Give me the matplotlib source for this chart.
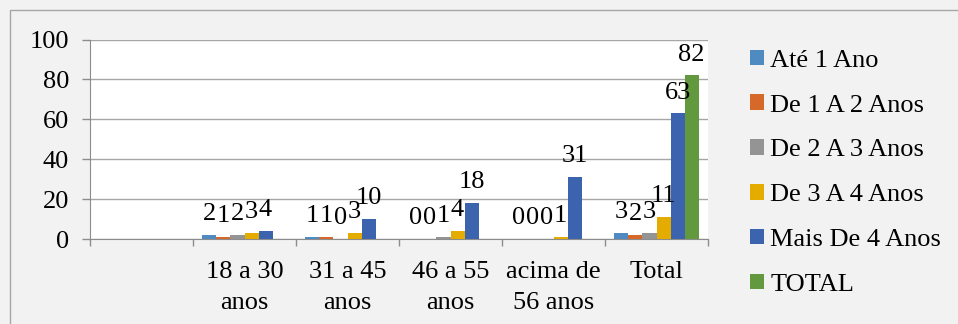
import glob
import matplotlib.pyplot as plt
import matplotlib.patches as mpatches
from matplotlib import font_manager as fm
import numpy as np

# pick a Times-like serif font
for path in glob.glob('/usr/share/fonts/**/LiberationSerif*.ttf', recursive=True):
    fm.fontManager.addfont(path)
names = sorted({f.name for f in fm.fontManager.ttflist})
serif = [n for n in names if n in ('Liberation Serif', 'Times New Roman', 'Tinos')]
plt.rcParams['font.family'] = serif + ['DejaVu Serif']

# data
categories = ['', '18 a 30\nanos', '31 a 45\nanos', '46 a 55\nanos', 'acima de\n56 anos', 'Total']
series = ['Até 1 Ano', 'De 1 A 2 Anos', 'De 2 A 3 Anos', 'De 3 A 4 Anos', 'Mais De 4 Anos', 'TOTAL']
ate_1 = [np.nan, 2, 1, 0, 0, 3]
de_1_2 = [np.nan, 1, 1, 0, 0, 2]
de_2_3 = [np.nan, 2, 0, 1, 0, 3]
de_3_4 = [np.nan, 3, 3, 4, 1, 11]
mais_4 = [np.nan, 4, 10, 18, 31, 63]
total = [np.nan, np.nan, np.nan, np.nan, np.nan, 82]
values = [ate_1, de_1_2, de_2_3, de_3_4, mais_4, total]
colors = ['#4f8bc0', '#d6692a', '#949494', '#e5ac00', '#3c64ae', '#63993e']
fs = 19

fig = plt.figure(figsize=(9.58, 3.24), dpi=100)
fig.patch.set_facecolor('#f2f2f2')
# outer chart border (only top/left visible)
fig.patches.append(mpatches.Rectangle((10 / 958, -0.5), 2, 0.5 + 1 - 9.5 / 324,
                                      transform=fig.transFigure, fill=False,
                                      edgecolor='#a6a6a6', lw=1))

ax = fig.add_axes([90 / 958, (324 - 239) / 324, (708 - 90) / 958, 199.5 / 324])
ax.set_facecolor('white')

x = np.arange(len(categories))
w = 0.136
for i, (vals, name, c) in enumerate(zip(values, series, colors)):
    pos = x + (i - 2.5) * w
    ax.bar(pos, vals, w, color=c, label=name, zorder=3)
    for xp, v in zip(pos, vals):
        if not np.isnan(v):
            ax.annotate(f'{v:g}', (xp, v), xytext=(0, 7), textcoords='offset points',
                        ha='center', va='bottom', fontsize=fs, zorder=4)

ax.set_xlim(-0.5, len(categories) - 0.5)
ax.set_ylim(0, 100)
ax.set_yticks(range(0, 101, 20))
ax.set_xticks(x)
ax.set_xticklabels(categories, fontsize=fs, linespacing=1.55)
ax.set_xticks(np.arange(-0.5, len(categories)), minor=True)
ax.tick_params(axis='x', which='major', length=0, pad=15.5)
ax.tick_params(axis='x', which='minor', length=5, color='#8c8c8c', width=1)
ax.tick_params(axis='y', labelsize=fs, length=6, color='#8c8c8c', width=1, pad=9)
ax.grid(axis='y', color='#a6a6a6', lw=1, zorder=0)
for s in ['top', 'right']:
    ax.spines[s].set_visible(False)
for s in ['left', 'bottom']:
    ax.spines[s].set_color('#8c8c8c')

fig.legend(loc='upper left', bbox_to_anchor=(739 / 958, 1 - 39 / 324),
           frameon=False, fontsize=fs, handlelength=0.53, handleheight=0.53,
           handletextpad=0.25, labelspacing=0.86, borderaxespad=0)

fig.savefig('out.png', dpi=100, facecolor=fig.get_facecolor())
